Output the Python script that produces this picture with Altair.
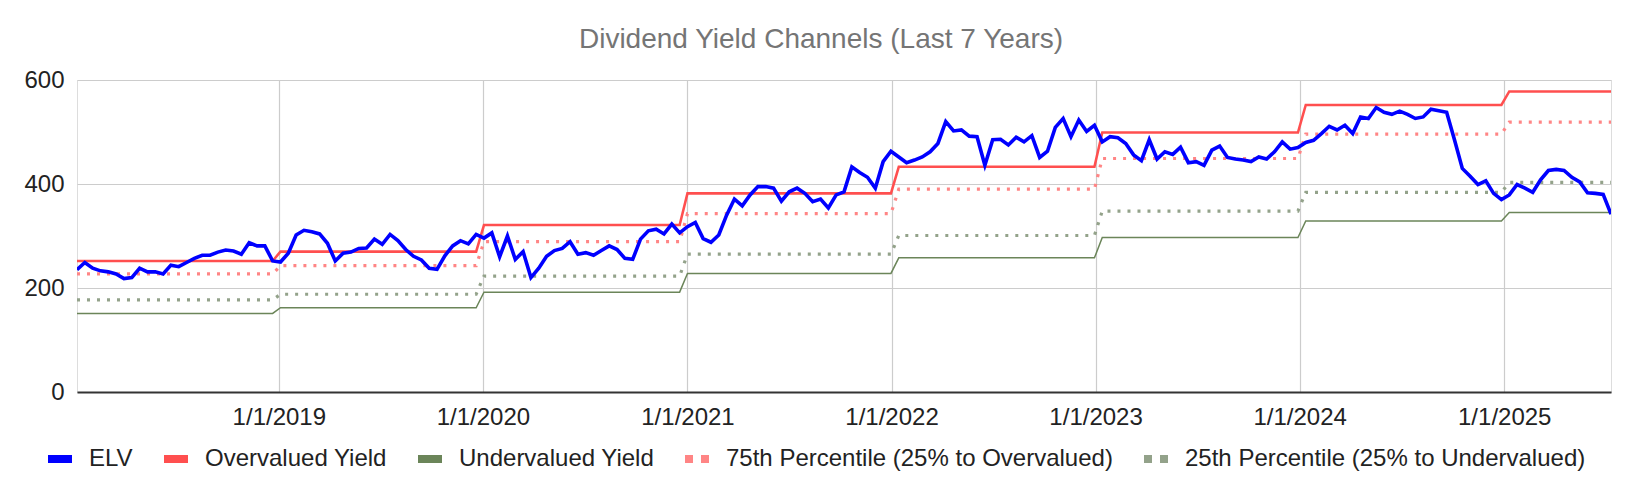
import altair as alt
import pandas as pd

FONT = "Liberation Sans"

SOLID_SERIES = ["ELV", "Overvalued Yield", "Undervalued Yield"]
SOLID_COLORS = ["#0000ff", "#ff4f4f", "#6b8559"]
DOT_SERIES = ["75th Percentile (25% to Overvalued)", "25th Percentile (25% to Undervalued)"]
DOT_COLORS = ["#ff8585", "#93a28a"]

# biweekly observations, first on 2018-01-05
START = "2018-01-05"

elv = [
    # 2018
    235, 249, 238, 233, 231, 227, 218, 220, 238, 231, 231, 227, 244, 241, 249, 257, 263, 263, 269, 273, 271, 265, 287, 281, 281, 252,
    # 2019
    250, 267, 302, 311, 308, 304, 286, 252, 267, 269, 276, 277, 294, 284, 303, 291, 274, 261, 254, 238, 236, 262, 281, 291, 285, 303,
    # 2020
    296, 306, 260, 300, 255, 270, 220, 238, 261, 272, 276, 289, 265, 268, 263, 272, 281, 274, 257, 255, 294, 310, 313, 304, 323, 306,
    # 2021
    318, 326, 295, 288, 302, 340, 371, 358, 379, 395, 395, 392, 367, 385, 392, 382, 366, 371, 354, 379, 385, 433, 422, 413, 392, 443, 463,
    # 2022
    452, 441, 446, 452, 462, 478, 520, 502, 504, 492, 491, 436, 485, 486, 475, 490, 481, 493, 451, 463, 509, 526, 491, 523, 501, 513,
    # 2023
    481, 491, 489, 478, 456, 445, 485, 448, 462, 457, 471, 441, 443, 436, 465, 473, 451, 448, 446, 443, 452, 448, 462, 481, 467, 470,
    # 2024
    480, 484, 497, 511, 504, 513, 497, 529, 526, 547, 538, 534, 540, 534, 526, 529, 544, 541, 538, 485, 430, 415, 399, 406, 382, 370,
    # 2025
    379, 399, 392, 384, 408, 426, 428, 426, 413, 404, 383, 382, 380, 342,
]

# yearly channel levels, 2018 .. 2025
years = [2018, 2019, 2020, 2021, 2022, 2023, 2024, 2025]
overvalued = [252, 270, 321, 382, 433, 499, 552, 578]
undervalued = [151, 162, 192, 228, 258, 297, 329, 345]
pct75 = [227, 243, 289, 343, 390, 449, 496, 519]
pct25 = [177, 188, 223, 265, 301, 348, 384, 403]

x_ticks = [2019, 2020, 2021, 2022, 2023, 2024, 2025]
y_ticks = [0, 200, 400, 600]

dates = pd.date_range(START, periods=len(elv), freq="14D")
date_str = [d.strftime("%Y-%m-%d") for d in dates]


def step_frame(names, levels):
    rows = []
    for name, lv in zip(names, levels):
        m = dict(zip(years, lv))
        for d, ds in zip(dates, date_str):
            rows.append({"date": ds, "value": m[d.year], "series": name, "style": name})
    return pd.DataFrame(rows)


solid_steps_df = step_frame(SOLID_SERIES[1:], [overvalued, undervalued])
dot_steps_df = step_frame(DOT_SERIES, [pct75, pct25])
elv_df = pd.DataFrame({"date": date_str, "value": elv,
                       "series": SOLID_SERIES[0], "style": SOLID_SERIES[0]})

stroke_scale = alt.Scale(domain=SOLID_SERIES, range=SOLID_COLORS)
solid_width = alt.Scale(domain=SOLID_SERIES, range=[3.6, 1.5, 1.5])
dot_scale = alt.Scale(domain=DOT_SERIES, range=DOT_COLORS)
dot_width = alt.Scale(domain=DOT_SERIES, range=[3.2, 3.2])
dot_dash = alt.Scale(domain=DOT_SERIES, range=[[3, 7], [3, 7]])

# legend swatches: a bar, and two squares built from short pieces
SOLID_PATH = "M-1,0H1"
DOT_PATH = ("M-1,0H-0.75M-0.75,0H-0.5M-0.5,0H-0.333"
            "M0.333,0H0.583M0.583,0H0.833M0.833,0H1")


def make_legend(x, path):
    return alt.Legend(
        title=None,
        orient="none",
        legendX=x,
        legendY=363,
        direction="horizontal",
        columns=3,
        padding=0,
        symbolType=path,
        symbolSize=576,
        symbolStrokeWidth=8,
        labelFont=FONT,
        labelFontSize=24,
        labelColor="#222222",
        labelOffset=13,
        labelLimit=1000,
        columnPadding=15,
    )


legend_solid = make_legend(-33, SOLID_PATH)
legend_dot = make_legend(604, DOT_PATH)

x_enc = alt.X(
    "date:T",
    title=None,
    axis=alt.Axis(
        values=[alt.DateTime(year=y, month=1, date=1) for y in x_ticks],
        format="%-m/%-d/%Y",
        grid=True,
        gridColor="#cccccc",
        gridWidth=1.2,
        ticks=False,
        tickSize=0,
        domainColor="#333333",
        domainWidth=2,
        labelFont=FONT,
        labelFontSize=24,
        labelColor="#222222",
        labelPadding=13,
    ),
)
y_enc = alt.Y(
    "value:Q",
    title=None,
    scale=alt.Scale(domain=[0, 600], nice=False),
    axis=alt.Axis(
        values=y_ticks,
        grid=True,
        gridColor="#cccccc",
        gridWidth=1.2,
        domain=False,
        ticks=False,
        tickSize=0,
        labelFont=FONT,
        labelFontSize=24,
        labelColor="#222222",
        labelPadding=13,
    ),
)

dotted = alt.Chart(dot_steps_df).mark_line(clip=True).encode(
    x=x_enc,
    y=y_enc,
    color=alt.Color("series:N", scale=dot_scale, legend=legend_dot),
    strokeWidth=alt.StrokeWidth("style:N", scale=dot_width, legend=None),
    strokeDash=alt.StrokeDash("style:N", scale=dot_dash, legend=None),
)

solid = alt.Chart(solid_steps_df).mark_line(clip=True).encode(
    x=x_enc,
    y=y_enc,
    stroke=alt.Stroke("series:N", scale=stroke_scale, legend=legend_solid),
    strokeWidth=alt.StrokeWidth("style:N", scale=solid_width, legend=None),
)

elv_line = alt.Chart(elv_df).mark_line(clip=True).encode(
    x=x_enc,
    y=y_enc,
    stroke=alt.Stroke("series:N", scale=stroke_scale, legend=legend_solid),
    strokeWidth=alt.StrokeWidth("style:N", scale=solid_width, legend=None),
)

chart = (
    alt.layer(dotted, solid, elv_line)
    .resolve_scale(strokeWidth="independent")
    .properties(
        width=1534,
        height=312,
        autosize=alt.AutoSizeParams(type="none"),
        padding={"left": 69, "top": 72, "right": 17, "bottom": 94},
        title=alt.TitleParams(
            "Dividend Yield Channels (Last 7 Years)",
            font=FONT,
            fontSize=28,
            fontWeight="normal",
            color="#757575",
            anchor="middle",
            baseline="bottom",
            offset=13,
            dx=-23,
            dy=27,
        ),
    )
    .configure_view(stroke=None)
    .configure(background="white")
)

chart.save("out.html", embed_options={"renderer": "svg", "actions": False})
